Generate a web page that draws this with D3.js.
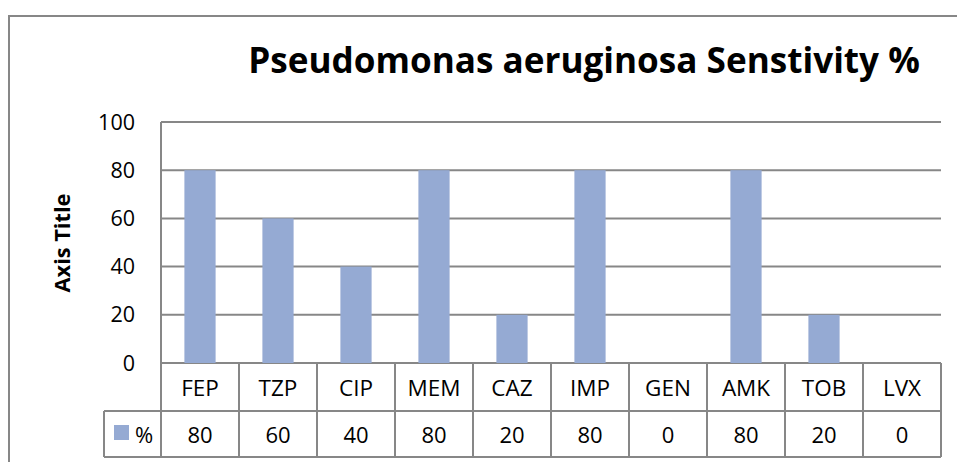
<!DOCTYPE html>
<html>
<head>
<meta charset="utf-8">
<script src="https://cdn.jsdelivr.net/npm/d3@7"></script>
<style>
  html, body { margin: 0; padding: 0; background: #fff; }
  svg text { font-family: "Open Sans", "Liberation Sans", sans-serif; fill: #000; }
</style>
</head>
<body>
<div id="chart"></div>
<script>
// data
const categories = ["FEP", "TZP", "CIP", "MEM", "CAZ", "IMP", "GEN", "AMK", "TOB", "LVX"];
const values = [80, 60, 40, 80, 20, 80, 0, 80, 20, 0];
const yTicks = [0, 20, 40, 60, 80, 100];
const seriesName = "%";
const chartTitle = "Pseudomonas aeruginosa Senstivity %";
const yAxisTitle = "Axis Title";

const W = 957, H = 462;
const plot = { left: 161, right: 941, top: 122, bottom: 363 };
const rowH = [48, 46];
const legendLeft = 104;
const gridColor = "#878787";
const barColor = "#95aad3";

const svg = d3.select("#chart").append("svg")
    .attr("width", W)
    .attr("height", H);

// outer chart border
svg.append("rect")
    .attr("x", 9).attr("y", 16)
    .attr("width", W + 20).attr("height", H + 20)
    .attr("fill", "none")
    .attr("stroke", gridColor)
    .attr("stroke-width", 2);

const x = d3.scaleBand()
    .domain(categories)
    .range([plot.left, plot.right])
    .padding(0);

const y = d3.scaleLinear()
    .domain([0, 100])
    .range([plot.bottom, plot.top]);

// gridlines
svg.append("g").selectAll("line")
    .data(yTicks)
    .enter()
    .append("line")
    .attr("x1", plot.left).attr("x2", plot.right)
    .attr("y1", d => y(d)).attr("y2", d => y(d))
    .attr("stroke", gridColor)
    .attr("stroke-width", 2);

// bars
const barW = x.bandwidth() * 0.4;
svg.append("g").selectAll("rect")
    .data(values)
    .enter()
    .append("rect")
    .attr("x", (d, i) => x(categories[i]) + (x.bandwidth() - barW) / 2)
    .attr("y", d => y(d))
    .attr("width", barW)
    .attr("height", d => y(0) - y(d))
    .attr("fill", barColor);

// y tick labels
svg.append("g").selectAll("text")
    .data(yTicks)
    .enter()
    .append("text")
    .attr("x", 135)
    .attr("y", d => y(d) + 7.5)
    .attr("text-anchor", "end")
    .style("font-size", "21.5px")
    .text(d => d);

// data table
const row1Top = plot.bottom, row2Top = plot.bottom + rowH[0], tableBottom = row2Top + rowH[1];
const table = svg.append("g")
    .attr("stroke", gridColor)
    .attr("stroke-width", 2);

table.append("line")
    .attr("x1", plot.left).attr("x2", plot.left)
    .attr("y1", plot.top).attr("y2", tableBottom);
table.append("line")
    .attr("x1", legendLeft).attr("x2", plot.right)
    .attr("y1", row2Top).attr("y2", row2Top);
table.append("line")
    .attr("x1", legendLeft).attr("x2", plot.right)
    .attr("y1", tableBottom).attr("y2", tableBottom);
table.append("line")
    .attr("x1", legendLeft).attr("x2", legendLeft)
    .attr("y1", row2Top).attr("y2", tableBottom);
table.selectAll(".col")
    .data(categories)
    .enter()
    .append("line")
    .attr("class", "col")
    .attr("x1", d => x(d) + x.bandwidth()).attr("x2", d => x(d) + x.bandwidth())
    .attr("y1", row1Top).attr("y2", tableBottom);

svg.append("g").selectAll("text")
    .data(categories)
    .enter()
    .append("text")
    .attr("x", d => x(d) + x.bandwidth() / 2)
    .attr("y", row1Top + 33)
    .attr("text-anchor", "middle")
    .style("font-size", "22.5px")
    .text(d => d);

svg.append("g").selectAll("text")
    .data(values)
    .enter()
    .append("text")
    .attr("x", (d, i) => x(categories[i]) + x.bandwidth() / 2)
    .attr("y", row2Top + 32)
    .attr("text-anchor", "middle")
    .style("font-size", "22px")
    .text(d => d);

// legend key in table
svg.append("rect")
    .attr("x", 114).attr("y", row2Top + 14)
    .attr("width", 15).attr("height", 15)
    .attr("fill", barColor);
svg.append("text")
    .attr("x", 135)
    .attr("y", row2Top + 32)
    .style("font-size", "22px")
    .text(seriesName);

// chart title, sized to the width in the picture
const title = svg.append("text")
    .attr("x", 584)
    .attr("y", 73)
    .attr("text-anchor", "middle")
    .style("font-weight", "bold")
    .style("font-size", "34px")
    .text(chartTitle);
const tw = title.node().getComputedTextLength();
title.style("font-size", (34 * 672 / tw) + "px");

// axis title
const at = svg.append("text")
    .attr("transform", "translate(70,243) rotate(-90)")
    .attr("text-anchor", "middle")
    .style("font-weight", "bold")
    .style("font-size", "20px")
    .text(yAxisTitle);
const aw = at.node().getComputedTextLength();
at.style("font-size", (20 * 99 / aw) + "px");
</script>
</body>
</html>
